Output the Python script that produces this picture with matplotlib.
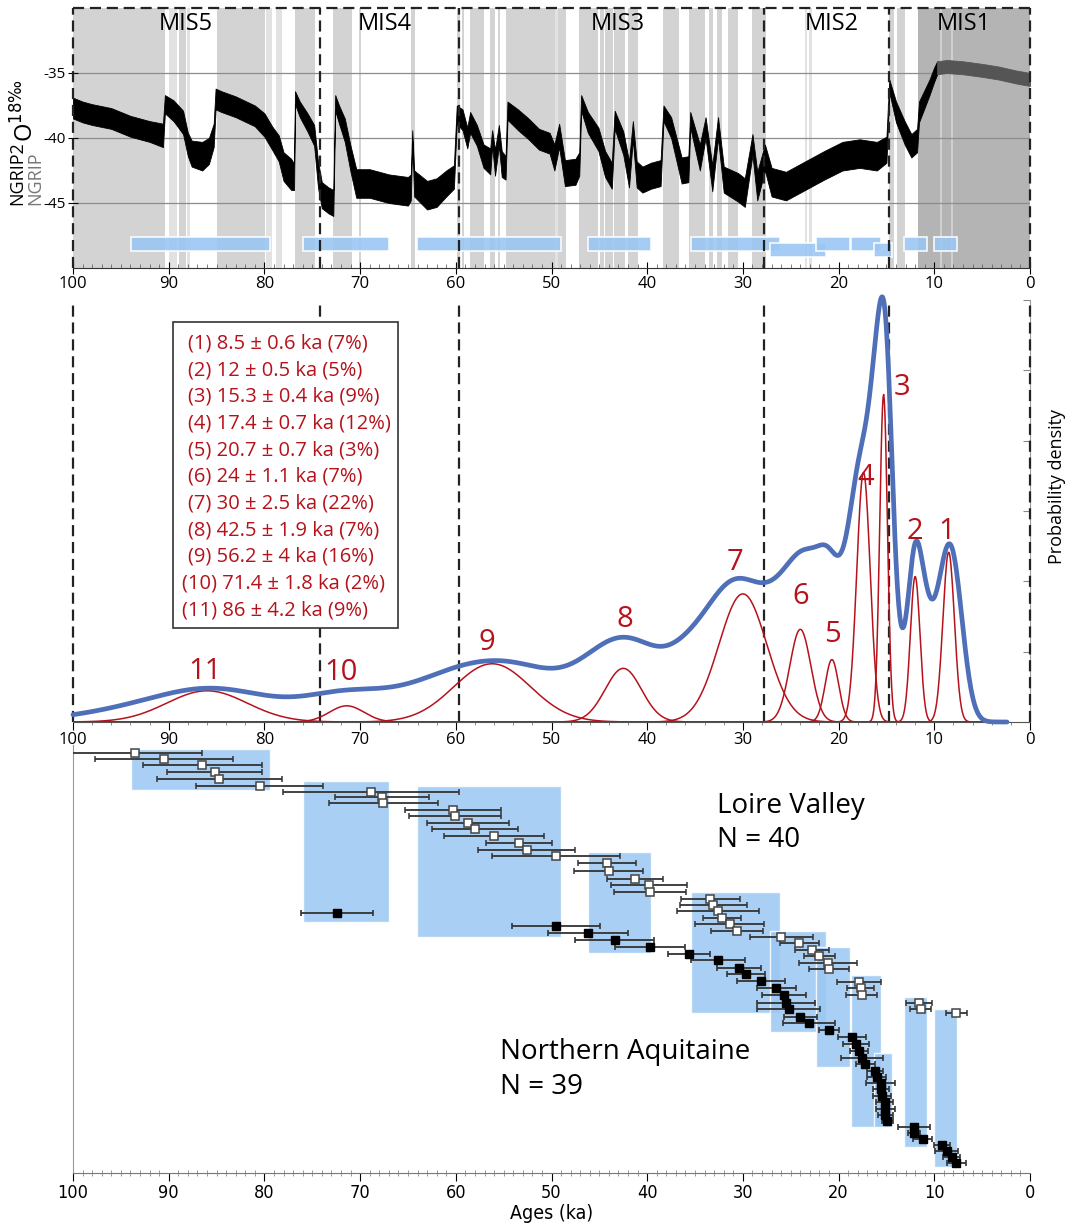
import numpy as np
import matplotlib
matplotlib.use("Agg")
import matplotlib.pyplot as plt
from matplotlib.patches import Rectangle

plt.rcParams['font.family'] = ['Open Sans', 'DejaVu Sans']

# NGRIP d18O record: age (ka), centre of the noisy band, half width of the band
ngrip_age = [100, 99, 98, 96, 94, 92, 90.6, 90.4, 89.5, 88.5, 88.0, 87.6, 86.5, 85.8, 85.3, 85.1,
             84.5, 83, 81, 80, 79.2, 78.5, 78, 77.2, 76.9, 76.8, 76.3, 75.5, 74.8, 74.4, 74.0,
             73.3, 72.8, 72.6, 72.2, 71.6, 71.0, 70.4, 69, 67, 65, 64.7, 64.55, 64.35, 63, 62,
             61, 60.2, 59.9, 59.3, 58.8, 58.5, 57.8, 57.1, 56.4, 56.2, 55.9, 55.5, 55.2, 54.8,
             54.6, 53.5, 52.4, 51.3, 50.2, 49.7, 49.2, 48.6, 47.5, 47.1, 46.9, 46.2, 45.1, 44.4,
             43.7, 43.4, 42.5, 41.9, 41.5, 41.1, 40.5, 39.6, 38.6, 38.3, 37.5, 36.4, 35.7, 35.5,
             34.5, 33.9, 33.2, 32.6, 32.0, 30.5, 29.8, 29.0, 28.5, 27.7, 27.0, 25.5, 23.5, 21.5,
             19.6, 17.8, 16.0, 15.0, 14.7, 14.0, 13.1, 12.4, 11.8, 11.6, 10.5, 10.0, 9.7, 8.7,
             7, 5, 3.3, 1.5, 0]
ngrip_mid = [-37.7, -38.0, -38.2, -38.5, -39.1, -39.5, -39.8, -37.4, -37.9, -38.8, -40.5, -41.2,
             -41.4, -41.0, -39.8, -37.0, -37.2, -37.6, -38.3, -39.0, -40.0, -40.8, -42.2, -42.8,
             -43.0, -36.9, -37.8, -38.8, -39.8, -42.8, -44.4, -44.8, -45.0, -37.3, -38.2, -39.4,
             -41.6, -43.5, -43.5, -43.9, -44.1, -43.8, -39.8, -43.5, -44.4, -44.2, -43.5, -43.0,
             -38.2, -38.6, -40.0, -38.8, -39.8, -41.4, -41.8, -40.0, -41.9, -39.8, -42.0, -42.3,
             -37.9, -38.6, -39.3, -40.1, -40.4, -41.5, -39.8, -42.7, -42.6, -42.0, -37.3, -38.8,
             -40.1, -42.0, -42.9, -38.6, -40.4, -42.8, -39.4, -42.8, -43.2, -42.9, -42.7, -38.1,
             -39.2, -42.5, -42.4, -38.6, -41.5, -39.2, -43.1, -39.2, -43.2, -43.8, -44.2, -40.5,
             -43.7, -41.5, -43.4, -43.7, -42.9, -42.1, -41.4, -41.2, -41.4, -40.9, -36.0, -38.0,
             -39.6, -40.6, -40.2, -38.0, -36.1, -35.1, -34.6, -34.5, -34.6, -34.8, -35.0, -35.3,
             -35.5]
ngrip_half = [0.8, 0.8, 0.8, 0.8, 0.8, 0.8, 0.9, 0.7, 0.8, 0.9, 0.9, 1.0, 1.1, 1.0, 0.9, 0.8,
              0.8, 0.8, 0.8, 0.9, 0.9, 1.0, 1.1, 1.2, 1.0, 0.5, 0.6, 0.7, 0.8, 1.0, 1.0, 1.0,
              1.0, 0.6, 0.7, 0.9, 1.0, 1.1, 1.1, 1.1, 1.1, 1.0, 0.4, 1.0, 1.1, 1.1, 1.0, 0.9,
              0.7, 0.8, 0.8, 0.8, 0.8, 0.9, 1.0, 0.6, 1.0, 0.8, 1.0, 0.9, 0.7, 0.8, 0.8, 0.8,
              0.8, 1.0, 0.9, 1.0, 1.0, 0.9, 0.6, 0.8, 0.9, 1.0, 1.0, 0.7, 0.9, 1.0, 0.7, 1.0,
              1.0, 1.0, 1.0, 0.6, 0.8, 1.0, 1.0, 0.6, 1.0, 0.8, 1.0, 0.8, 1.0, 1.1, 1.1, 0.8,
              1.1, 1.0, 1.1, 1.1, 1.1, 1.1, 1.1, 1.1, 1.1, 1.0, 0.5, 0.8, 0.9, 0.9, 0.9, 0.8,
              0.6, 0.55, 0.5, 0.5, 0.5, 0.5, 0.5, 0.5, 0.5]
ngrip_split = 9.7   # younger part drawn from the NGRIP (grey) series

# stadial (grey) intervals behind the record
stadials = [(100, 90.4), (88.9, 88.2), (85.0, 79.9), (76.8, 74.7), (72.8, 70.8), (70.1, 69.9),
            (64.7, 64.3), (59.9, 59.6), (59.4, 59.1), (58.5, 57.1), (56.4, 55.9), (55.6, 55.4),
            (54.8, 48.5), (47.1, 45.1), (44.9, 44.5), (44.4, 43.6), (43.5, 42.3), (42.0, 41.0),
            (38.4, 36.7), (35.6, 34.0), (33.5, 33.1), (32.7, 32.2), (31.6, 30.5), (29.1, 27.6),
            (14.7, 14.2), (13.9, 13.1)]
stadials_light = [(90.0, 89.1), (88.1, 87.8), (79.8, 79.2), (78.8, 78.2), (49.6, 49.3),
                  (23.5, 23.3), (23.1, 22.8)]
holocene = (11.7, 0)
holocene_lines = [9.3, 8.2]

mis_bounds = [74.2, 59.7, 27.8, 14.7]
mis_names = ["MIS5", "MIS4", "MIS3", "MIS2", "MIS1"]
mis_centres = [88.2, 67.4, 43.1, 20.7, 6.9]

# age clusters: bars in the top panel, boxes in the bottom panel
clus_old = [93.9, 76.0, 64.1, 46.2, 35.4, 27.2, 22.4, 18.7, 16.3, 13.2, 10.0]
clus_young = [79.4, 67.0, 49.0, 39.6, 26.1, 21.3, 18.8, 15.6, 14.4, 10.8, 7.6]
clus_lower = [False, False, False, False, False, True, False, False, True, False, False]
clus_row_top = [1.4, 6.2, 7.0, 16.9, 23.0, 29.0, 31.3, 35.6, 47.4, 39.0, 40.8]
clus_row_bot = [7.5, 27.6, 29.9, 32.3, 41.4, 44.3, 49.5, 58.6, 58.6, 61.7, 64.7]

# Gaussian mixture components
mix_mu = [8.5, 12, 15.3, 17.4, 20.7, 24, 30, 42.5, 56.2, 71.4, 86]
mix_sd = [0.6, 0.5, 0.4, 0.7, 0.7, 1.1, 2.5, 1.9, 4, 1.8, 4.2]
mix_w = [7, 5, 9, 12, 3, 7, 22, 7, 16, 2, 9]

# Loire Valley dates (open squares)
loire_age = [93.5, 90.5, 86.5, 85.2, 84.7, 80.5, 68.9, 67.7, 67.6, 60.3, 60.1, 58.7, 58.0, 56.0,
             53.4, 52.6, 49.5, 44.2, 44.0, 41.3, 39.8, 39.7, 33.4, 33.1, 32.6, 32.2, 31.4, 30.6,
             26.0, 24.1, 22.8, 22.0, 21.1, 21.0, 17.9, 17.7, 17.6, 11.6, 11.4, 7.7]
loire_err = [7.0, 7.2, 6.2, 5.0, 6.5, 6.6, 9.2, 4.9, 5.7, 5.0, 4.8, 4.3, 4.5, 5.2, 3.4, 5.1, 6.7,
             3.0, 3.6, 2.9, 4.0, 3.8, 3.1, 3.5, 4.3, 2.0, 3.6, 2.7, 3.3, 2.0, 1.8, 1.6, 3.0, 2.1,
             2.3, 1.4, 1.6, 1.4, 1.1, 1.1]
loire_row = [1.9, 2.8, 3.8, 4.9, 5.9, 6.9, 7.8, 8.7, 9.6, 10.6, 11.5, 12.6, 13.5, 14.5, 15.6,
             16.6, 17.6, 18.7, 19.8, 21.0, 22.0, 23.0, 24.1, 25.0, 25.9, 26.9, 27.9, 28.9, 29.8,
             30.8, 31.8, 32.7, 33.8, 34.7, 36.6, 37.6, 38.6, 39.8, 40.8, 41.4]

# Northern Aquitaine dates (filled squares)
aq_age = [72.4, 49.5, 46.2, 43.4, 39.7, 35.6, 32.6, 30.4, 29.7, 28.1, 26.5, 25.7, 25.5, 25.2,
          24.0, 23.1, 21.0, 18.6, 18.2, 17.9, 17.6, 17.2, 16.2, 16.0, 15.6, 15.6, 15.5, 15.2,
          15.1, 15.1, 14.9, 12.1, 12.1, 11.2, 9.2, 8.7, 8.2, 7.7]
aq_err = [3.8, 4.6, 4.2, 4.1, 3.7, 2.2, 2.8, 2.3, 2.0, 2.5, 2.0, 2.3, 3.0, 3.3, 1.7, 2.7, 1.05,
          1.5, 1.35, 0.95, 2.2, 1.0, 0.8, 1.0, 1.5, 0.85, 0.95, 0.85, 0.95, 0.8, 0.6, 1.7, 0.65,
          1.0, 0.8, 1.2, 0.85, 1.0]
aq_row = [26.2, 28.1, 29.3, 30.3, 31.3, 32.4, 33.4, 34.5, 35.5, 36.5, 37.6, 38.6, 39.8, 40.8,
          41.9, 42.9, 43.9, 45.0, 46.1, 47.1, 48.1, 49.1, 50.2, 51.1, 52.0, 52.9, 53.9, 54.9,
          55.9, 56.8, 57.7, 58.6, 59.5, 60.5, 61.3, 62.3, 63.2, 64.1]

# height of the summed-probability peak (same units as the mixture)
sum_peak = 0.1165

red = "#b5121b"
blue = "#4f6fb8"
box_blue = "#9bc7f3"
dash = (0, (5, 2.6))

fig = plt.figure(figsize=(10.72, 12.26), dpi=100)
L, W = 73 / 1072, 957 / 1072
ax1 = fig.add_axes([L, 0.7814, W, 0.2121])
ax2 = fig.add_axes([L, 0.4111, W, 0.3442])
ax3 = fig.add_axes([L, 0.0432, W, 0.3491])

# ---------------- top panel ----------------
for a, b in stadials:
    ax1.axvspan(a, b, color="#d3d3d3", lw=0, zorder=0)
for a, b in stadials_light:
    ax1.axvspan(a, b, color="#e2e2e2", lw=0, zorder=0)
ax1.axvspan(holocene[0], holocene[1], color="#b4b4b4", lw=0, zorder=0)
for x in holocene_lines:
    ax1.axvline(x, color="#d6d6d6", lw=1.2, zorder=0.5)
for yv in [-35, -40, -45]:
    ax1.axhline(yv, color="#8c8c8c", lw=0.9, zorder=1)

age = np.array(ngrip_age)
mid = np.array(ngrip_mid)
half = np.array(ngrip_half)
old = age >= ngrip_split
young = age <= ngrip_split
ax1.fill_between(age[old], mid[old] - half[old], mid[old] + half[old], color="black",
                 lw=0.6, edgecolor="black", zorder=3)
ax1.fill_between(age[young], mid[young] - half[young], mid[young] + half[young], color="#555555",
                 lw=0.6, edgecolor="#555555", zorder=3)

for o, y, low in zip(clus_old, clus_young, clus_lower):
    y0, h = (-49.15, 1.05) if low else (-48.7, 1.1)
    ax1.add_patch(Rectangle((o, y0), y - o, h, facecolor=box_blue, edgecolor="white",
                            lw=1.2, alpha=0.9, zorder=4))

for name, c in zip(mis_names, mis_centres):
    ax1.text(c, -31.2, name, ha="center", va="center", fontsize=17, zorder=6)

ax1.set_xlim(100, 0)
ax1.set_ylim(-50, -30)
for x in [100, 0] + mis_bounds:
    ax1.plot([x, x], [-50, -30], color="#222222", lw=1.6, ls=dash, zorder=5, clip_on=False)
ax1.plot([100, 0], [-30, -30], color="#222222", lw=1.6, ls=dash, zorder=5, clip_on=False)
for s in ["left", "top", "right"]:
    ax1.spines[s].set_visible(False)
ax1.spines["bottom"].set_color("#333333")
ax1.set_yticks([-35, -40, -45])
ax1.set_yticklabels(["-35", "-40", "-45"], fontsize=11)
ax1.set_xticks(np.arange(0, 101, 10))
ax1.set_xticks(np.arange(0, 101, 1), minor=True)
ax1.tick_params(axis="x", which="major", direction="inout", length=9, labelsize=12, pad=1)
ax1.tick_params(axis="x", which="minor", direction="in", length=3, color="#666666")
ax1.tick_params(axis="y", direction="inout", length=7, pad=2)

fig.text(22 / 1072, 1 - 205 / 1226, "NGRIP2", rotation=90, rotation_mode="anchor",
         ha="left", va="baseline", fontsize=13)
fig.text(40 / 1072, 1 - 205 / 1226, "NGRIP", rotation=90, rotation_mode="anchor",
         ha="left", va="baseline", fontsize=13, color="#777777")
fig.text(34 / 1072, 1 - 142 / 1226, r"O$^{18‰}$", rotation=90, rotation_mode="anchor",
         ha="left", va="baseline", fontsize=17)

# ---------------- middle panel ----------------
xs = np.linspace(100, 2.4, 1500)
comps = []
for m, s, w in zip(mix_mu, mix_sd, mix_w):
    comps.append(w / 100 / (s * np.sqrt(2 * np.pi)) * np.exp(-0.5 * ((xs - m) / s) ** 2))

# summed probability of all dates, scaled to the peak
all_age = np.array(loire_age + aq_age)
all_err = np.array(loire_err + aq_err)
dens = np.zeros_like(xs)
for a, e in zip(all_age, all_err):
    dens += np.exp(-0.5 * ((xs - a) / e) ** 2) / (e * np.sqrt(2 * np.pi))
dens *= sum_peak / dens.max()

for c in comps:
    ax2.plot(xs, c, color=red, lw=1.1, zorder=3)
ax2.plot(xs, dens, color=blue, lw=3.4, zorder=4, clip_on=False, solid_capstyle="round")

ytop = 0.0898 * 422 / 327.7
ax2.set_xlim(100, 0)
ax2.set_ylim(0, ytop)
for x in [100] + mis_bounds:
    ax2.plot([x, x], [0, ytop], color="#222222", lw=1.6, ls=dash, zorder=2, clip_on=False)
ax2.plot([0, 0], [0, ytop], color="#222222", lw=1.6, ls=dash, zorder=5, clip_on=False)
for s in ["left", "top"]:
    ax2.spines[s].set_visible(False)
ax2.spines["right"].set_color("#999999")
ax2.spines["bottom"].set_color("#555555")
ax2.yaxis.tick_right()
ax2.set_yticks(np.linspace(0, ytop, 7))
ax2.set_yticklabels([])
ax2.tick_params(axis="y", direction="in", length=5, color="#888888")
ax2.set_xticks(np.arange(0, 101, 10))
ax2.set_xticks(np.arange(0, 101, 2), minor=True)
ax2.tick_params(axis="x", which="major", direction="out", length=6, labelsize=12, pad=1)
ax2.tick_params(axis="x", which="minor", direction="out", length=2, color="#777777")

# legend of the components
box_l, box_r = 89.55, 66.0
ax2.add_patch(Rectangle((box_l, 0.02575), box_r - box_l, 0.1096 - 0.02575, facecolor="white",
                        edgecolor="#333333", lw=1.2, zorder=6))
for i, (m, s, w) in enumerate(zip(mix_mu, mix_sd, mix_w)):
    line = "({}) {:g} \u00b1 {:g} ka ({}%)".format(i + 1, m, s, w)
    yl = (722 - (343.3 + 26.7 * i)) / 422 * ytop
    xl = 88.0 if i < 9 else 88.6
    ax2.text(xl, yl, line, color=red, fontsize=14.5, ha="left", va="center", zorder=7)

# peak numbers
num_x = [8.7, 12.0, 13.4, 17.2, 20.6, 24.0, 30.8, 42.3, 56.8, 72.0, 86.2]
num_h = [190, 190, 334, 244, 87, 125, 159, 102, 79, 49, 50]
for i, (x, h) in enumerate(zip(num_x, num_h)):
    ax2.text(x, h / 422 * ytop, str(i + 1), color=red, fontsize=21, ha="center", va="center",
             zorder=7)

fig.text(1057 / 1072, 1 - 487 / 1226, "Probability density", rotation=90, ha="center",
         va="center", fontsize=13)

# ---------------- bottom panel ----------------
for o, y, t, b in zip(clus_old, clus_young, clus_row_top, clus_row_bot):
    ax3.add_patch(Rectangle((o, t), y - o, b - t, facecolor=box_blue, edgecolor="white",
                            lw=1.0, alpha=0.85, zorder=1))
ax3.errorbar(loire_age, loire_row, xerr=loire_err, fmt="s", ms=5.5, mfc="white", mec="#444444",
             mew=1.1, ecolor="#333333", elinewidth=1.3, capsize=2.5, capthick=1.2, zorder=3)
ax3.errorbar(aq_age, aq_row, xerr=aq_err, fmt="s", ms=5.5, mfc="black", mec="black",
             ecolor="#333333", elinewidth=1.3, capsize=2.5, capthick=1.2, zorder=3)

ax3.text(32.7, 10.0, "Loire Valley", fontsize=20, ha="left", va="center")
ax3.text(32.7, 15.2, "N = 40", fontsize=20, ha="left", va="center")
ax3.text(55.4, 47.3, "Northern Aquitaine", fontsize=20, ha="left", va="center")
ax3.text(55.4, 52.6, "N = 39", fontsize=20, ha="left", va="center")

ax3.set_xlim(100, 0)
ax3.set_ylim(65.6, 0.76)
for s in ["top", "right"]:
    ax3.spines[s].set_visible(False)
ax3.spines["left"].set_color("#999999")
ax3.spines["bottom"].set_color("#777777")
ax3.set_yticks([])
ax3.set_xticks(np.arange(0, 101, 10))
ax3.set_xticks(np.arange(0, 101, 1), minor=True)
ax3.tick_params(axis="x", which="major", direction="out", length=6, pad=2)
ax3.tick_params(axis="x", which="minor", direction="inout", length=4, color="#888888")
for lab in ax3.get_xticklabels():
    lab.set_family("DejaVu Sans")
    lab.set_stretch("condensed")
    lab.set_fontsize(13)
ax3.set_xlabel("Ages (ka)", family="DejaVu Sans", stretch="condensed", fontsize=14, labelpad=1)

fig.savefig("out.png", dpi=100)
